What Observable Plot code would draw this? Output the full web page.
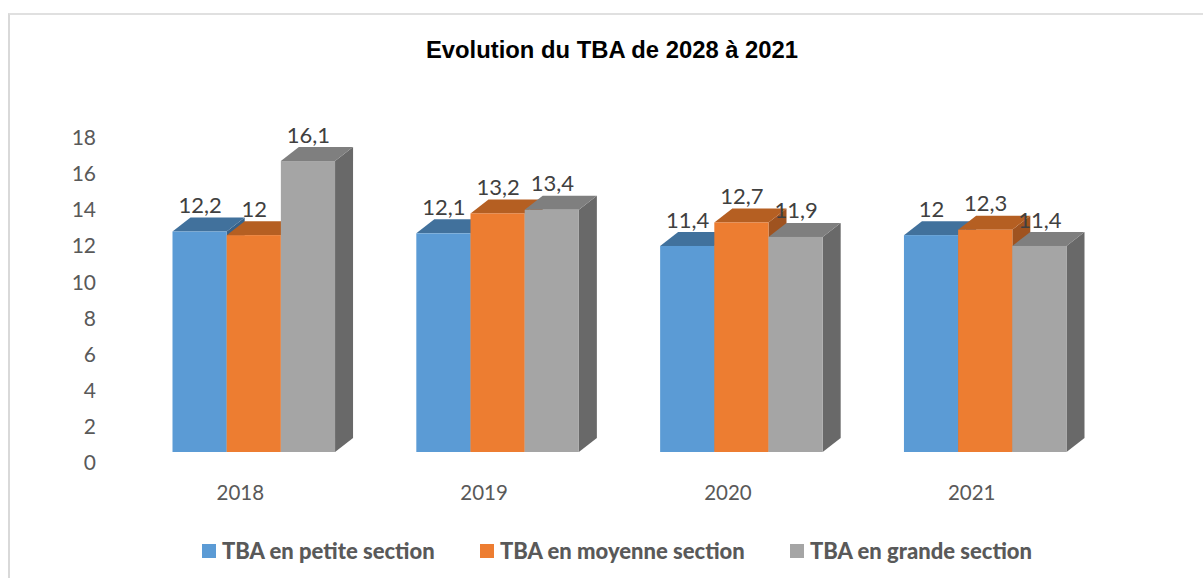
<!DOCTYPE html>
<html lang="fr">
<head>
<meta charset="utf-8">
<script src="https://cdn.jsdelivr.net/npm/d3@7"></script>
<script src="https://cdn.jsdelivr.net/npm/@observablehq/plot@0.6"></script>
<style>
  html, body { margin: 0; padding: 0; background: #fff; overflow: hidden; }
  #chart { position: absolute; left: 8px; top: 13px; right: 0; height: 565px; box-sizing: border-box;
           border-left: 2px solid #d9d9d9; border-top: 2px solid #e0e0e0; }
  #title { position: absolute; left: 0; top: 21px; width: 1204px; text-align: center;
           font: bold 23.8px "Liberation Sans", Arial, sans-serif; color: #000; line-height: 28px; }
  #plot { position: absolute; left: 0; top: 65px; }
  #legend { position: absolute; left: 192px; top: 522px; display: flex; align-items: center;
            font: bold 22px Lato, sans-serif; color: #595959; line-height: 28px; white-space: nowrap; }
  #legend i { display: inline-block; width: 14px; height: 14px; margin-right: 6px; }
  #legend span { display: flex; align-items: center; position: absolute; top: 0; }
</style>
</head>
<body>
<div id="chart">
  <div id="title">Evolution du TBA de 2028 à 2021</div>
  <div id="plot"></div>
  <div id="legend"></div>
</div>
<script>
const years = ["2018", "2019", "2020", "2021"];
const series = ["TBA en petite section", "TBA en moyenne section", "TBA en grande section"];
const petite = [12.2, 12.1, 11.4, 12];
const moyenne = [12, 13.2, 12.7, 12.3];
const grande = [16.1, 13.4, 11.9, 11.4];
const yTicks = [0, 2, 4, 6, 8, 10, 12, 14, 16, 18];
const frontColors = ["#5b9bd5", "#ed7d31", "#a5a5a5"];
const topColors = ["#41719c", "#b55f22", "#7f7f7f"];
const sideColors = ["#37628a", "#9f5320", "#696969"];
const legendLefts = [0, 278, 588];

const table = [];
[petite, moyenne, grande].forEach((vals, s) =>
  vals.forEach((value, y) => table.push({year: years[y], series: series[s], value, s})));

const depthX = 18, depthY = 14, frFormat = d => String(d).replace(".", ",");

// Adds the oblique top and side faces to each bar, from the position given by the scales
function extrude(index, scales, values, dims, ctx, next) {
  const g = next(index, scales, values, dims, ctx);
  d3.select(g).selectAll("rect").each(function (i) {
    const x = +this.getAttribute("x"), y = +this.getAttribute("y");
    const w = +this.getAttribute("width"), h = +this.getAttribute("height");
    const s = table[i].s;
    const poly = (pts, fill) => {
      const p = document.createElementNS("http://www.w3.org/2000/svg", "polygon");
      p.setAttribute("points", pts.map(q => q.join(",")).join(" "));
      p.setAttribute("fill", fill);
      this.parentNode.insertBefore(p, this);
    };
    poly([[x + w, y], [x + w + depthX, y - depthY], [x + w + depthX, y + h - depthY], [x + w, y + h]], sideColors[s]);
    poly([[x, y], [x + depthX, y - depthY], [x + w + depthX, y - depthY], [x + w, y]], topColors[s]);
  });
  return g;
}

const chart = Plot.plot({
  width: 1193, height: 450,
  marginLeft: 162.5, marginRight: 136.5, marginTop: 46.7, marginBottom: 78,
  style: {fontFamily: "Lato, sans-serif", background: "transparent", overflow: "visible"},
  x: {domain: series, axis: null, padding: 0, round: false},
  fx: {domain: years, paddingInner: 1 / 3, paddingOuter: 0, round: false, label: null},
  y: {domain: [0, 18], label: null},
  color: {domain: series, range: frontColors},
  marks: [
    Plot.axisY({ticks: yTicks, tickSize: 0, tickPadding: 77, dy: 11, fontSize: 21, fill: "#595959", label: null}),
    Plot.axisFx({anchor: "bottom", tickSize: 0, tickPadding: 33, dx: -14, fontSize: 20.5, fill: "#595959", label: null}),
    Plot.barY(table, {fx: "year", x: "series", y: "value", fill: "series", inset: 0, render: extrude}),
    Plot.text(table, {fx: "year", x: "series", y: "value", text: d => frFormat(d.value), dy: -26,
                      fontSize: 22, fill: "#404040"})
  ]
});
document.getElementById("plot").appendChild(chart);

const legend = d3.select("#legend");
series.forEach((name, i) => {
  const item = legend.append("span").style("left", legendLefts[i] + "px");
  item.append("i").style("background", frontColors[i]);
  item.append("b").text(name);
});
</script>
</body>
</html>
